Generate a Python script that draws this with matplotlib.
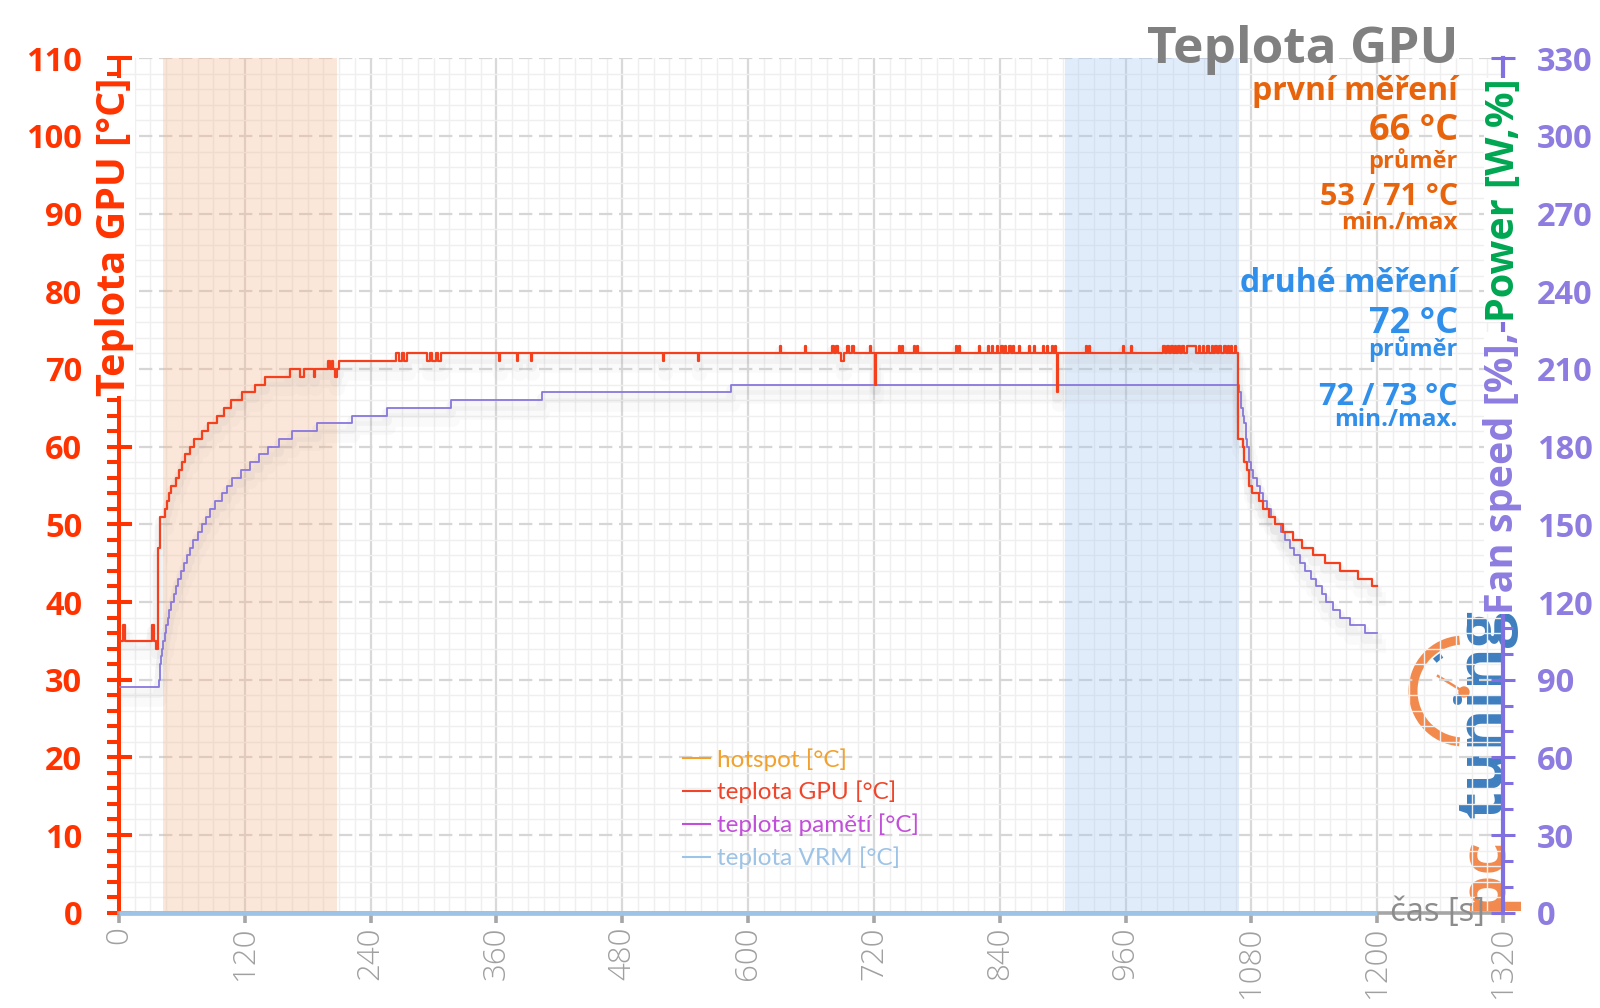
import matplotlib
matplotlib.use('Agg')
import matplotlib.pyplot as plt
from matplotlib.ticker import MultipleLocator
from matplotlib.lines import Line2D
from matplotlib.patches import Arc, Circle
import matplotlib.patheffects as pe

plt.rcParams['font.family'] = ['Open Sans', 'DejaVu Sans']

# ---------------- data ----------------
# GPU temperature: step breakpoints (time [s], value [°C])
gpu_t = [0, 4, 6, 29, 31, 33, 35, 37, 39, 44, 46, 48, 50, 54, 57, 60, 63, 68, 72, 79, 85, 93, 100, 107,
         117, 130, 139, 163, 173, 176, 186, 187, 199, 201, 203, 204, 206, 208, 210,
         264, 267, 270, 272, 275, 294, 297, 299, 302, 304, 307,
         362, 363, 380, 381, 393, 394, 519, 520, 552, 553, 630, 631, 654, 655,
         680, 682, 684, 686, 689, 691, 694, 696, 699, 701, 716, 717, 721, 722,
         744, 745, 747, 748, 758, 759, 761, 762, 798, 799, 801, 802, 820, 821,
         829, 830, 833, 834, 837, 838, 841, 843, 845, 846, 849, 851, 853, 854, 858, 859,
         868, 869, 873, 874, 881, 882, 885, 886, 890, 891, 893, 894, 895, 896,
         922, 923, 925, 926, 958, 959, 965, 966,
         996, 998, 1000, 1001, 1003, 1005, 1007, 1008, 1010, 1012, 1014, 1016, 1019, 1027,
         1030, 1031, 1034, 1035, 1038, 1040, 1042, 1043, 1045, 1047, 1049, 1051,
         1054, 1056, 1058, 1059, 1061, 1062, 1064, 1065,
         1067, 1072, 1073, 1076, 1078, 1081, 1087, 1091, 1097, 1103, 1110, 1120, 1128, 1139,
         1150, 1165, 1182, 1195, 1200]
gpu_v = [35, 37, 35, 35, 37, 35, 34, 47, 51, 52, 53, 54, 55, 56, 57, 58, 59, 60, 61, 62, 63, 64, 65, 66,
         67, 68, 69, 70, 69, 70, 69, 70, 71, 70, 71, 70, 69, 70, 71,
         72, 71, 72, 71, 72, 71, 72, 71, 72, 71, 72,
         71, 72, 71, 72, 71, 72, 71, 72, 71, 72, 73, 72, 73, 72,
         73, 72, 73, 72, 71, 72, 73, 72, 73, 72, 73, 72, 68, 72,
         73, 72, 73, 72, 73, 72, 73, 72, 73, 72, 73, 72, 73, 72,
         73, 72, 73, 72, 73, 72, 73, 72, 73, 72, 73, 72, 73, 72, 73, 72,
         73, 72, 73, 72, 73, 72, 73, 72, 73, 72, 73, 72, 67, 72,
         73, 72, 73, 72, 73, 72, 73, 72,
         73, 72, 73, 72, 73, 72, 73, 72, 73, 72, 73, 72, 73, 72,
         73, 72, 73, 72, 73, 72, 73, 72, 73, 72, 73, 72,
         73, 72, 73, 72, 73, 72, 73, 72,
         61, 60, 58, 57, 55, 54, 53, 52, 51, 50, 49, 48, 47, 46,
         45, 44, 43, 42, 42]

# memory temperature: step breakpoints (time [s], value [°C])
mem_t = [0, 38, 39, 40, 41, 42, 44, 45, 47, 48, 50, 52, 54, 56, 59, 62, 65, 68, 71, 75, 79, 83, 87, 92,
         98, 103, 108, 116, 125, 134, 142, 153, 165, 189, 222, 256, 317, 403, 584,
         1068, 1070, 1072, 1073, 1075, 1076, 1078, 1080, 1082, 1085, 1088, 1091, 1095, 1099, 1103,
         1108, 1112, 1117, 1121, 1126, 1131, 1137, 1142, 1147, 1151, 1158, 1165, 1174, 1188, 1200]
mem_v = [29, 30, 32, 33, 34, 35, 36, 37, 38, 39, 40, 41, 42, 43, 44, 45, 46, 47, 48, 49, 50, 51, 52, 53,
         54, 55, 56, 57, 58, 59, 60, 61, 62, 63, 64, 65, 66, 67, 68,
         67, 65, 64, 63, 61, 60, 58, 57, 56, 55, 54, 53, 52, 51, 50,
         49, 48, 47, 46, 45, 44, 43, 42, 41, 40, 39, 38, 37, 36, 36]

# VRM temperature (no reading -> 0)
vrm_t = [0, 1200]
vrm_v = [0, 0]

# highlighted measurement windows [s]
first_window = (42, 208)
second_window = (902, 1068)

legend_labels = ['hotspot [°C]', 'teplota GPU [°C]', 'teplota pamětí [°C]', 'teplota VRM [°C]']
legend_colors = ['#F2A22C', '#F0452A', '#C24FD9', '#9DC3E6']

title = 'Teplota GPU'
first_lines = ['první měření', '66 °C', 'průměr', '53 / 71 °C', 'min./max']
second_lines = ['druhé měření', '72 °C', 'průměr', '72 / 73 °C', 'min./max.']

# ---------------- figure ----------------
W, H = 1600, 1008
fig = plt.figure(figsize=(W / 100, H / 100), dpi=100)
fig.patch.set_facecolor('white')
L, R, B, T = 119, 1503, 912.7, 58.3
ax = fig.add_axes([L / W, 1 - B / H, (R - L) / W, (B - T) / H])
ax.patch.set_alpha(0)
ax.set_xlim(0, 1320)
ax.set_ylim(0, 110)

RED = '#FF3300'
PURPLE = '#8070E0'
PURPLE_T = '#8E7CE0'
GRAY = '#A6A6A6'

ax.xaxis.set_major_locator(MultipleLocator(120))
ax.xaxis.set_minor_locator(MultipleLocator(15))
ax.yaxis.set_major_locator(MultipleLocator(10))
ax.yaxis.set_minor_locator(MultipleLocator(2))
ax.set_axisbelow(True)
ax.grid(which='minor', color='#EFEFEF', lw=1.0)
ax.grid(which='major', axis='x', color='#D9D9D9', lw=1.6)
ax.grid(which='major', axis='y', color='#D6D6D6', lw=1.6, ls=(0, (6, 3)))

for s in ['top', 'right']:
    ax.spines[s].set_visible(False)
ax.spines['left'].set_color(RED)
ax.spines['left'].set_linewidth(2.9)
ax.spines['bottom'].set_color(GRAY)
ax.spines['bottom'].set_linewidth(2.6)

ax.tick_params(axis='y', which='major', direction='inout', length=18, width=2.9, color=RED,
               labelcolor=RED, labelsize=23.5, pad=17.5)
ax.tick_params(axis='y', which='minor', direction='out', length=8.5, width=2.9, color=RED)
ax.tick_params(axis='x', which='major', direction='out', length=7, width=2.6, color=GRAY,
               labelcolor='#A0A0A0', labelsize=22.5, labelrotation=90, pad=3)
ax.tick_params(axis='x', which='minor', length=0)
for lab in ax.get_yticklabels():
    lab.set_fontweight('bold')
for lab in ax.get_xticklabels():
    lab.set_fontweight('light')

ax2 = ax.twinx()
ax2.set_ylim(0, 330)
ax2.yaxis.set_major_locator(MultipleLocator(30))
ax2.yaxis.set_minor_locator(MultipleLocator(10))
for s in ['top', 'left', 'bottom']:
    ax2.spines[s].set_visible(False)
ax2.spines['right'].set_color(PURPLE)
ax2.spines['right'].set_linewidth(3)
ax2.tick_params(axis='y', which='major', direction='inout', length=17, width=2.2, color=PURPLE,
                labelcolor=PURPLE_T, labelsize=23.5, pad=16)
ax2.tick_params(axis='y', which='minor', direction='out', length=7, width=2.2, color=PURPLE)
for lab in ax2.get_yticklabels():
    lab.set_fontweight('bold')

ax.axvspan(*first_window, color='#F4B183', alpha=0.3, lw=0, zorder=0.8)
ax.axvspan(*second_window, color='#9DC3F0', alpha=0.3, lw=0, zorder=0.8)

shadow = [pe.SimpleLineShadow(offset=(0, -4), shadow_color='#909090', alpha=0.07, linewidth=7),
          pe.SimpleLineShadow(offset=(1, -9), shadow_color='#909090', alpha=0.04, linewidth=10),
          pe.Normal()]
ax.plot(mem_t, mem_v, drawstyle='steps-post', color='#8877DD', lw=1.3, zorder=3, path_effects=shadow)
ax.plot(gpu_t, gpu_v, drawstyle='steps-post', color='#F5401E', lw=1.6, zorder=4, path_effects=shadow)
ax.plot(vrm_t, vrm_v, color='#9DC3E6', lw=3.4, zorder=6, clip_on=False, solid_capstyle='butt')

handles = [Line2D([], [], color=c, lw=1.5) for c in legend_colors]
leg = ax.legend(handles, legend_labels, loc='upper left', bbox_to_anchor=(683 / W, 1 - 748 / H),
                bbox_transform=fig.transFigure, frameon=False, handlelength=1.1, handletextpad=0.3,
                labelspacing=0.42, borderpad=0, borderaxespad=0, labelcolor=legend_colors,
                prop={'family': 'Lato', 'size': 17.5})
leg.set_zorder(10)

# ---------------- overlays in pixel coordinates ----------------
low = fig.add_axes([0, 0, 1, 1], zorder=-1)
low.set_xlim(0, W); low.set_ylim(H, 0); low.axis('off')
ORANGE_L = '#F28A4E'
BLUE_L = '#3F7FBF'
low.add_patch(Arc((1464, 691), 102, 102, theta1=95, theta2=265, lw=6.5, color=ORANGE_L))
low.add_patch(Arc((1464, 691), 84, 84, theta1=226, theta2=238, lw=4, color=BLUE_L))
low.plot([1464, 1438], [692, 676], color=ORANGE_L, lw=1.8)
low.add_patch(Circle((1464, 692), 5, color=ORANGE_L))
low.text(1485, 910, 'pc', rotation=90, ha='center', va='bottom', color=ORANGE_L, size=46, weight='bold')
low.text(1485, 818, 'tuning', rotation=90, ha='center', va='bottom', color=BLUE_L, size=46, weight='bold')

ov = fig.add_axes([0, 0, 1, 1], zorder=10)
ov.set_xlim(0, W); ov.set_ylim(H, 0); ov.axis('off')
ov.patch.set_alpha(0)

ov.text(1458, 63, title, ha='right', va='baseline', color='#808080', size=37, weight='bold')
ORANGE = '#E8640C'
BLUE = '#2F8FEA'
sizes = [23, 26, 17, 22, 17.5]
ys1 = [100, 140, 168, 205, 229]
ys2 = [292, 333, 356, 405, 426]
for s, sz, y in zip(first_lines, sizes, ys1):
    ov.text(1458, y, s, ha='right', va='baseline', color=ORANGE, size=sz, weight='bold')
for s, sz, y in zip(second_lines, sizes, ys2):
    ov.text(1458, y, s, ha='right', va='baseline', color=BLUE, size=sz, weight='bold')

ov.text(115, 78, 'Teplota GPU [°C]', rotation=90, ha='center', va='top', color=RED, size=28.5,
        weight='bold', bbox=dict(fc='white', ec='none', pad=0))
t1 = ov.text(1503, 78, 'Power [W,%]', rotation=90, ha='center', va='top', color='#00A651', size=28.5,
             weight='bold', bbox=dict(fc='white', ec='none', pad=0))
fig.canvas.draw()
bb = t1.get_window_extent()
ov.text(1503, H - bb.y0 + 10, 'Fan speed [%],', rotation=90, ha='center', va='top', color=PURPLE_T,
        size=28.5, weight='bold', bbox=dict(fc='white', ec='none', pad=0))

ov.text(1390, 913, 'čas [s]', ha='left', va='center', color='#8C8C8C', size=23.5)

fig.savefig('out.png', dpi=100)
